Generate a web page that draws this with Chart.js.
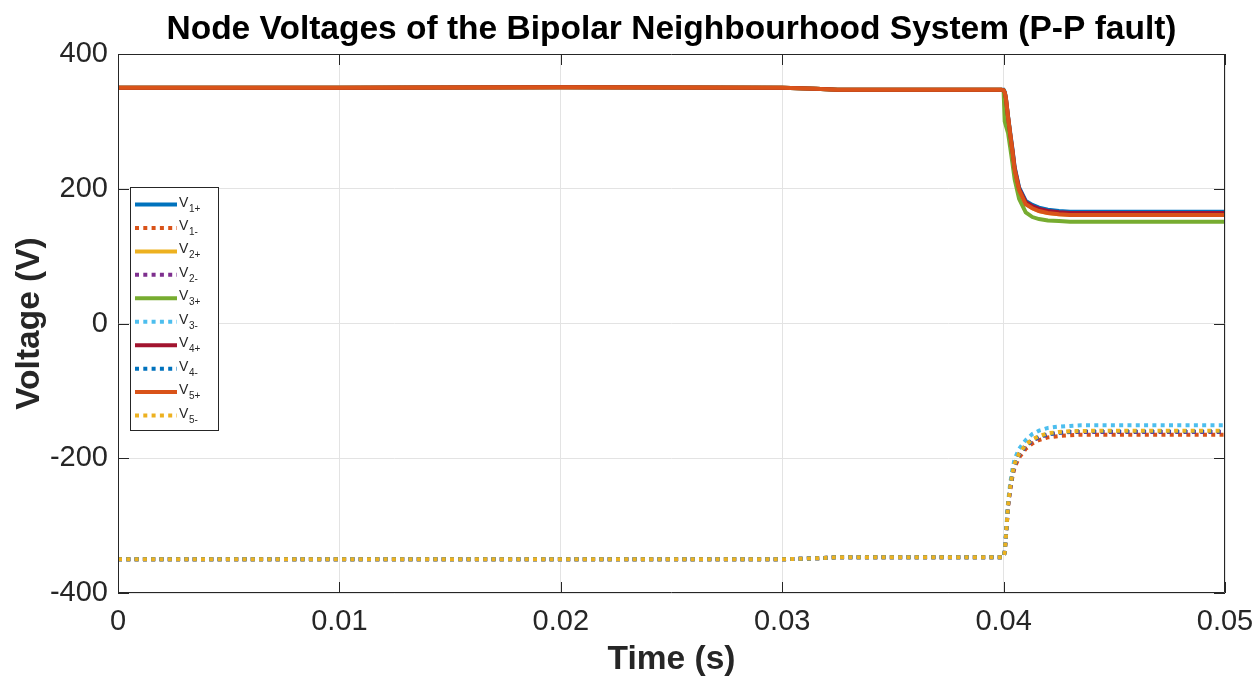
<!DOCTYPE html>
<html>
<head>
<meta charset="utf-8">
<script src="https://cdn.jsdelivr.net/npm/chart.js@4/dist/chart.umd.min.js"></script>
<style>
html,body{margin:0;padding:0;background:#fff;}
canvas{display:block;}
</style>
</head>
<body>
<canvas id="c" width="1259" height="680"></canvas>
<script>
// Time samples (s)
const times = [0, 0.01, 0.02, 0.03, 0.0315, 0.0325, 0.0399, 0.04, 0.04005, 0.0401, 0.0402, 0.0403, 0.0404, 0.0405, 0.0407, 0.041, 0.0413, 0.0416, 0.042, 0.0425, 0.043, 0.0435, 0.045, 0.05];

// Node voltages (V)
const v1p = [350, 350, 350.5, 350, 348.5, 347, 347, 347, 344, 336, 308, 283, 259, 232, 202, 182, 176, 172, 169, 167, 166, 166, 166, 166];
const v1n = [-350, -350, -350, -350, -348.5, -347, -347, -347, -339, -319, -272, -246, -227, -213, -199, -186, -178, -173, -169, -167, -166, -165, -165, -165];
const v2p = [350, 350, 350.5, 350, 348.5, 347, 347, 346, 343, 335, 306, 280, 255, 228, 198, 178, 171, 167, 164, 162, 161.5, 161.5, 161.5, 161.5];
const v2n = [-350, -350, -350, -350, -348.5, -347, -347, -347, -339, -318, -271, -244, -224, -210, -195, -182, -174, -169, -165, -162, -161, -161, -161, -161];
const v3p = [350, 350, 350.5, 350, 348.5, 347, 347, 346, 300, 294, 283, 261, 238, 214, 185, 165, 158, 155, 153, 152, 151, 151, 151, 151];
const v3n = [-350, -350, -350, -350, -348.5, -347, -347, -347, -338, -315, -266, -237, -216, -201, -186, -173, -164, -159, -155, -153, -152, -151, -151, -151];
const v4p = [350, 350, 350.5, 350, 348.5, 347, 347, 346, 343, 335, 307, 281, 257, 230, 200, 180, 174, 170, 167, 165, 164, 164, 164, 164];
const v4n = [-350, -350, -350, -350, -348.5, -347, -347, -347, -339, -318, -270, -243, -223, -209, -194, -181, -173, -168, -164, -162, -160.5, -160, -160, -160];
const v5p = [350, 350, 350.5, 350, 348.5, 347, 347, 346, 343, 335, 306, 280, 255, 228, 198, 177, 171, 167, 164, 162, 161, 161, 161, 161];
const v5n = [-350, -350, -350, -350, -348.5, -347, -347, -347, -339, -318, -270, -242, -222, -208, -193, -180, -172, -167, -163, -161, -160, -159.5, -159, -159];

const seriesNames = ['1+', '1-', '2+', '2-', '3+', '3-', '4+', '4-', '5+', '5-'];
const seriesValues = [v1p, v1n, v2p, v2n, v3p, v3n, v4p, v4n, v5p, v5n];
const seriesColors = ['#0072BD', '#D95319', '#EDB120', '#7E2F8E', '#77AC30', '#4DBEEE', '#A2142F', '#0072BD', '#D95319', '#EDB120'];
const seriesDotted = [false, true, false, true, false, true, false, true, false, true];

const xTicks = [0, 0.01, 0.02, 0.03, 0.04, 0.05];
const xTickLabels = ['0', '0.01', '0.02', '0.03', '0.04', '0.05'];
const yTicks = [-400, -200, 0, 200, 400];
const yTickLabels = ['-400', '-200', '0', '200', '400'];

const AXC = '#262626';
const FONT = "'Liberation Sans', Arial, Helvetica, sans-serif";

const datasets = seriesValues.map((vals, i) => ({
  label: 'V' + seriesNames[i],
  data: vals.map((v, k) => ({x: times[k], y: v})),
  borderColor: seriesColors[i],
  backgroundColor: seriesColors[i],
  borderWidth: 4,
  borderDash: seriesDotted[i] ? [4, 4.3] : [],
  borderCapStyle: 'butt',
  pointRadius: 0,
  tension: 0,
  fill: false,
  order: seriesValues.length - i
}));

const frame = {
  id: 'frame',
  afterDatasetsDraw(chart) {
    const {ctx, chartArea: a, scales: {x, y}} = chart;
    ctx.save();
    ctx.strokeStyle = AXC;
    ctx.lineWidth = 1;
    ctx.beginPath();
    ctx.rect(a.left + 0.5, a.top + 0.5, a.right - a.left - 1, a.bottom - a.top - 1);
    ctx.stroke();
    const tl = 11;
    ctx.beginPath();
    xTicks.forEach(t => {
      const px = Math.round(x.getPixelForValue(t)) + 0.5;
      ctx.moveTo(px, a.bottom); ctx.lineTo(px, a.bottom - tl);
      ctx.moveTo(px, a.top); ctx.lineTo(px, a.top + tl);
    });
    yTicks.forEach(t => {
      const py = Math.round(y.getPixelForValue(t)) + 0.5;
      ctx.moveTo(a.left, py); ctx.lineTo(a.left + tl, py);
      ctx.moveTo(a.right, py); ctx.lineTo(a.right - tl, py);
    });
    ctx.stroke();

    // legend box
    const lx = 130, ly = 187, lw = 88, lh = 243;
    ctx.fillStyle = '#fff';
    ctx.fillRect(lx, ly, lw, lh);
    ctx.strokeStyle = AXC;
    ctx.strokeRect(lx + 0.5, ly + 0.5, lw, lh);
    seriesNames.forEach((nm, i) => {
      const cy = 204.5 + i * 23.45;
      ctx.strokeStyle = seriesColors[i];
      ctx.lineWidth = 4;
      ctx.lineCap = 'butt';
      ctx.setLineDash(seriesDotted[i] ? [4, 4.3] : []);
      ctx.beginPath();
      ctx.moveTo(135, cy); ctx.lineTo(177, cy);
      ctx.stroke();
      ctx.setLineDash([]);
      ctx.fillStyle = AXC;
      ctx.textBaseline = 'alphabetic';
      ctx.textAlign = 'left';
      ctx.font = '14px ' + FONT;
      ctx.fillText('V', 179, cy + 2);
      ctx.font = '10px ' + FONT;
      ctx.fillText(nm, 189, cy + 7);
    });
    ctx.restore();
  }
};

new Chart(document.getElementById('c'), {
  type: 'line',
  data: {datasets},
  options: {
    responsive: false,
    animation: false,
    devicePixelRatio: 1,
    layout: {padding: {left: 0, right: 0, top: 0, bottom: 0}},
    plugins: {
      legend: {display: false},
      tooltip: {enabled: false},
      title: {
        display: true,
        fullSize: false,
        text: 'Node Voltages of the Bipolar Neighbourhood System (P-P fault)',
        color: '#000',
        font: {family: FONT, size: 33.5, weight: 'bold'},
        padding: {top: 10, bottom: 3.8}
      }
    },
    scales: {
      x: {
        type: 'linear',
        min: 0, max: 0.05,
        afterFit(s) { s.height = 87; s.paddingRight = 34; s.paddingLeft = 0; },
        afterBuildTicks(s) { s.ticks = xTicks.map(v => ({value: v})); },
        ticks: {
          color: AXC,
          font: {family: FONT, size: 29},
          padding: 12,
          maxRotation: 0,
          callback(v) { const i = xTicks.indexOf(v); return i >= 0 ? xTickLabels[i] : ''; }
        },
        grid: {color: '#e3e3e3', lineWidth: 1, drawTicks: false},
        border: {display: false},
        title: {
          display: true, text: 'Time (s)', color: AXC,
          font: {family: FONT, size: 33.5, weight: 'bold'},
          padding: {top: 0, bottom: 0}
        }
      },
      y: {
        type: 'linear',
        min: -400, max: 400,
        afterFit(s) { s.width = 118; s.paddingTop = 0; s.paddingBottom = 0; },
        afterBuildTicks(s) { s.ticks = yTicks.map(v => ({value: v})); },
        ticks: {
          color: AXC,
          font: {family: FONT, size: 29},
          padding: 10,
          callback(v) { const i = yTicks.indexOf(v); return i >= 0 ? yTickLabels[i] : ''; }
        },
        grid: {color: '#e3e3e3', lineWidth: 1, drawTicks: false},
        border: {display: false},
        title: {
          display: true, text: 'Voltage (V)', color: AXC,
          font: {family: FONT, size: 33.5, weight: 'bold'},
          padding: {top: 10, bottom: 0}
        }
      }
    }
  },
  plugins: [frame]
});
</script>
</body>
</html>
